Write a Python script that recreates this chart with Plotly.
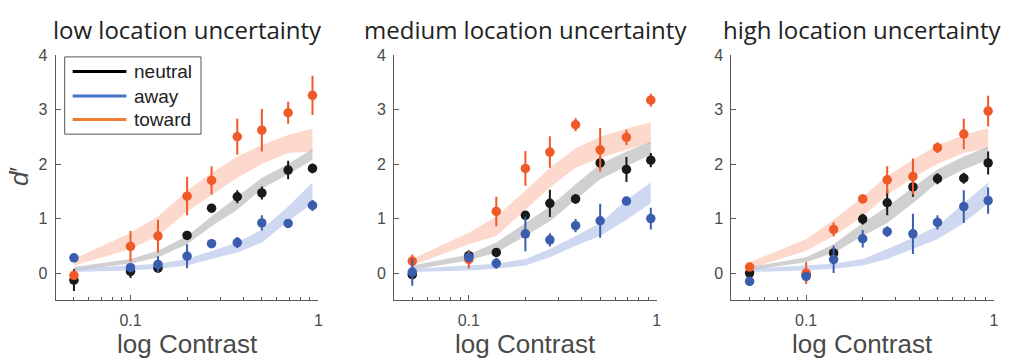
import plotly.graph_objects as go

W, H = 1011, 362

contrast = [0.05, 0.1, 0.14, 0.2, 0.27, 0.37, 0.5, 0.69, 0.93]
titles = ["low location uncertainty", "medium location uncertainty", "high location uncertainty"]
conditions = ["neutral", "away", "toward"]

# data points (d') and error half-lengths, per panel
low_neutral = [-0.13, 0.03, 0.09, 0.69, 1.19, 1.40, 1.47, 1.89, 1.92]
low_neutral_err = [0.2, 0.12, 0.08, 0.06, 0.04, 0.12, 0.12, 0.17, 0.09]
low_away = [0.28, 0.10, 0.16, 0.31, 0.54, 0.56, 0.92, 0.91, 1.24]
low_away_err = [0.05, 0.05, 0.15, 0.22, 0.04, 0.1, 0.14, 0.07, 0.1]
low_toward = [-0.04, 0.49, 0.68, 1.41, 1.70, 2.50, 2.62, 2.94, 3.26]
low_toward_err = [0.04, 0.28, 0.3, 0.35, 0.26, 0.33, 0.39, 0.2, 0.36]

med_neutral = [-0.03, 0.32, 0.38, 1.06, 1.28, 1.36, 2.02, 1.90, 2.07]
med_neutral_err = [0.08, 0.1, 0.05, 0.07, 0.25, 0.09, 0.1, 0.23, 0.13]
med_away = [0.02, 0.29, 0.18, 0.72, 0.61, 0.87, 0.96, 1.32, 1.00]
med_away_err = [0.25, 0.08, 0.1, 0.32, 0.12, 0.12, 0.31, 0.05, 0.2]
med_toward = [0.22, 0.25, 1.13, 1.92, 2.22, 2.72, 2.26, 2.49, 3.17]
med_toward_err = [0.12, 0.16, 0.27, 0.32, 0.29, 0.12, 0.4, 0.14, 0.12]

high_neutral = [0.0, -0.03, 0.37, 0.99, 1.29, 1.58, 1.73, 1.74, 2.02]
high_neutral_err = [0.05, 0.05, 0.06, 0.1, 0.23, 0.18, 0.1, 0.1, 0.21]
high_away = [-0.15, -0.06, 0.25, 0.63, 0.76, 0.72, 0.93, 1.22, 1.33]
high_away_err = [0.03, 0.05, 0.25, 0.16, 0.1, 0.37, 0.13, 0.3, 0.24]
high_toward = [0.11, 0.0, 0.80, 1.36, 1.71, 1.77, 2.30, 2.55, 2.97]
high_toward_err = [0.05, 0.2, 0.13, 0.08, 0.25, 0.33, 0.1, 0.28, 0.28]

# model fit bands (lower, upper)
low_neutral_lo = [0.05, 0.17, 0.29, 0.53, 0.86, 1.16, 1.55, 1.81, 2.08]
low_neutral_hi = [0.11, 0.26, 0.41, 0.68, 1.04, 1.40, 1.75, 2.00, 2.28]
low_away_lo = [0.02, 0.05, 0.08, 0.14, 0.26, 0.38, 0.56, 0.95, 1.28]
low_away_hi = [0.08, 0.14, 0.17, 0.26, 0.41, 0.56, 0.80, 1.22, 1.66]
low_toward_lo = [0.14, 0.44, 0.68, 1.13, 1.43, 1.75, 2.00, 2.20, 2.23]
low_toward_hi = [0.26, 0.74, 1.04, 1.51, 1.84, 2.14, 2.35, 2.53, 2.65]

med_neutral_lo = [0.06, 0.23, 0.38, 0.68, 0.95, 1.34, 1.72, 1.96, 2.17]
med_neutral_hi = [0.14, 0.34, 0.56, 0.92, 1.22, 1.63, 2.00, 2.23, 2.41]
med_away_lo = [0.02, 0.05, 0.08, 0.14, 0.29, 0.50, 0.68, 0.98, 1.28]
med_away_hi = [0.08, 0.14, 0.17, 0.26, 0.44, 0.68, 0.92, 1.34, 1.66]
med_toward_lo = [0.14, 0.53, 0.68, 1.16, 1.57, 1.93, 2.11, 2.26, 2.38]
med_toward_hi = [0.26, 0.74, 1.04, 1.51, 1.93, 2.29, 2.50, 2.65, 2.76]

high_neutral_lo = [0.05, 0.20, 0.37, 0.68, 0.92, 1.28, 1.66, 1.90, 2.08]
high_neutral_hi = [0.11, 0.29, 0.53, 0.92, 1.22, 1.57, 1.90, 2.14, 2.32]
high_away_lo = [0.02, 0.05, 0.08, 0.14, 0.26, 0.44, 0.62, 0.92, 1.28]
high_away_hi = [0.08, 0.14, 0.17, 0.26, 0.44, 0.65, 0.86, 1.28, 1.66]
high_toward_lo = [0.08, 0.41, 0.68, 1.04, 1.43, 1.75, 2.00, 2.20, 2.29]
high_toward_hi = [0.20, 0.62, 0.98, 1.40, 1.78, 2.08, 2.35, 2.53, 2.66]

y_ticks = [0, 1, 2, 3, 4]
x_ticks = [0.1, 1]
x_ticktext = ["0.1", "1"]
x_minor = [0.05, 0.06, 0.07, 0.08, 0.09, 0.2, 0.3, 0.4, 0.5, 0.6, 0.7, 0.8, 0.9]

panels = [
    dict(neutral=(low_neutral, low_neutral_err, low_neutral_lo, low_neutral_hi),
         away=(low_away, low_away_err, low_away_lo, low_away_hi),
         toward=(low_toward, low_toward_err, low_toward_lo, low_toward_hi)),
    dict(neutral=(med_neutral, med_neutral_err, med_neutral_lo, med_neutral_hi),
         away=(med_away, med_away_err, med_away_lo, med_away_hi),
         toward=(med_toward, med_toward_err, med_toward_lo, med_toward_hi)),
    dict(neutral=(high_neutral, high_neutral_err, high_neutral_lo, high_neutral_hi),
         away=(high_away, high_away_err, high_away_lo, high_away_hi),
         toward=(high_toward, high_toward_err, high_toward_lo, high_toward_hi)),
]

point_colors = {"neutral": "#1a1a1a", "away": "#3a5dae", "toward": "#f05a28"}
band_colors = {"neutral": "rgba(170,170,170,0.55)", "away": "rgba(175,190,232,0.6)",
               "toward": "rgba(250,196,176,0.65)"}
legend_colors = {"neutral": "#000000", "away": "#4472c4", "toward": "#ed7d31"}

# panel pixel geometry
x_px = [(56, 320), (396, 660), (735, 999)]
y_top_px, y_bot_px = 48, 299

fig = go.Figure()
axis_color = "#5a5a5a"
text_color = "#4a4a4a"
font_main = "Liberation Sans, Arial, sans-serif"

for i, pdata in enumerate(panels):
    xa = "x" if i == 0 else f"x{i+1}"
    ya = "y" if i == 0 else f"y{i+1}"
    # bands
    for cond in ["toward", "neutral", "away"]:
        vals, err, lo, hi = pdata[cond]
        fig.add_trace(go.Scatter(x=contrast, y=lo, mode="lines", line=dict(width=0),
                                 showlegend=False, hoverinfo="skip", xaxis=xa, yaxis=ya))
        fig.add_trace(go.Scatter(x=contrast, y=hi, mode="lines", line=dict(width=0),
                                 fill="tonexty", fillcolor=band_colors[cond],
                                 showlegend=False, hoverinfo="skip", xaxis=xa, yaxis=ya))
    # points
    for cond in ["neutral", "toward", "away"]:
        vals, err, lo, hi = pdata[cond]
        fig.add_trace(go.Scatter(
            x=contrast, y=vals, mode="markers", name=cond,
            marker=dict(color=point_colors[cond], size=9.5, line=dict(width=0)),
            error_y=dict(type="data", array=err, visible=True, color=point_colors[cond],
                         thickness=2, width=0),
            showlegend=False, xaxis=xa, yaxis=ya))

layout = dict(
    width=W, height=H, margin=dict(l=0, r=0, t=0, b=0),
    paper_bgcolor="white", plot_bgcolor="white", showlegend=False,
    font=dict(family=font_main, color=text_color),
)

annotations = []
shapes = []
ybot = 1 - y_bot_px / H
ytop = 1 - y_top_px / H
for i in range(3):
    sx = "" if i == 0 else str(i + 1)
    x0, x1 = x_px[i]
    layout["xaxis" + sx] = dict(
        type="log", range=[-1.398, 0.0], domain=[x0 / W, x1 / W], anchor="y" + sx,
        showgrid=False, zeroline=False, showline=True, linecolor=axis_color, linewidth=1,
        ticks="inside", ticklen=5, tickcolor=axis_color, tickwidth=1,
        tickvals=x_ticks, ticktext=x_ticktext,
        tickfont=dict(size=16, color=text_color, family=font_main),
        ticklabelstandoff=5,
        minor=dict(tickvals=x_minor, ticks="inside", ticklen=3, tickcolor=axis_color,
                   tickwidth=1, showgrid=False),
        fixedrange=True,
    )
    layout["yaxis" + sx] = dict(
        range=[-0.5, 4], domain=[ybot, ytop], anchor="x" + sx,
        showgrid=False, zeroline=False, showline=True, linecolor=axis_color, linewidth=1,
        ticks="inside", ticklen=5, tickcolor=axis_color, tickwidth=1,
        tickvals=y_ticks, tickfont=dict(size=16, color=text_color, family=font_main),
        ticklabelstandoff=4, fixedrange=True,
    )
    cx = (x0 + x1) / 2 / W
    annotations.append(dict(text=titles[i], x=cx, y=1 - 22 / H, xref="paper", yref="paper",
                            xanchor="center", yanchor="middle", showarrow=False,
                            font=dict(size=24, color="#222222", family="Open Sans, sans-serif")))
    annotations.append(dict(text="log Contrast", x=cx, y=1 - 344 / H, xref="paper", yref="paper",
                            xanchor="center", yanchor="middle", showarrow=False,
                            font=dict(size=26, color=text_color, family=font_main)))

annotations.append(dict(text="<i>d</i>′", x=19 / W, y=1 - 172 / H, xref="paper", yref="paper",
                        xanchor="center", yanchor="middle", showarrow=False, textangle=-90,
                        font=dict(size=26, color=text_color, family=font_main)))

# legend box (panel 1)
shapes.append(dict(type="rect", xref="paper", yref="paper",
                   x0=65 / W, x1=202 / W, y0=1 - 129 / H, y1=1 - 50 / H,
                   line=dict(color="#555555", width=1), fillcolor="white"))
leg_y = [65, 90, 114]
for cond, yy in zip(conditions, leg_y):
    shapes.append(dict(type="line", xref="paper", yref="paper",
                       x0=73 / W, x1=127 / W, y0=1 - yy / H, y1=1 - yy / H,
                       line=dict(color=legend_colors[cond], width=3)))
    annotations.append(dict(text=cond, x=133 / W, y=1 - yy / H, xref="paper", yref="paper",
                            xanchor="left", yanchor="middle", showarrow=False,
                            font=dict(size=19, color="#222222", family=font_main)))

layout["annotations"] = annotations
layout["shapes"] = shapes
fig.update_layout(**layout)
fig.write_html("out.html")
